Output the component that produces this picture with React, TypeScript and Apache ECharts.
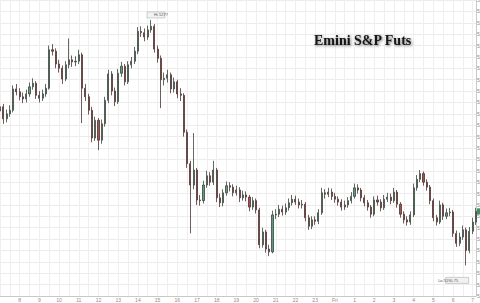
import React, { useEffect, useRef } from "react";
import * as echarts from "echarts";

// 10-minute candles, starting 07:00
const firstOpen = 5245;
const closes = [
  5246.5, 5242.25, 5244, 5245.25, 5252.75, 5251.75, 5250, 5249.25, 5251, 5253.5,
  5254.75, 5250.5, 5249.5, 5251, 5253, 5266.5, 5266, 5261.5, 5260, 5256.25,
  5261.25, 5263, 5262.25, 5262.5, 5264.75, 5253, 5250, 5245.25, 5235.5, 5241.75,
  5234.75, 5240.5, 5248.75, 5258, 5252, 5248.25, 5258.25, 5260.75, 5255.25, 5261.25,
  5262.5, 5266, 5273, 5272.5, 5271, 5273.5, 5274.75, 5266.75, 5263.5, 5256,
  5256.5, 5257.75, 5252.75, 5255.25, 5251, 5250.5, 5237.5, 5226.5, 5219, 5224.25,
  5213.75, 5213.5, 5219, 5222.25, 5220, 5224.25, 5214.5, 5212.75, 5216.25, 5218.75,
  5218.25, 5216.25, 5217.25, 5214.5, 5215.5, 5214.75, 5211.25, 5213.5, 5210.25, 5198,
  5202.5, 5196.5, 5195.5, 5208.5, 5208.75, 5210.5, 5209.5, 5211, 5212.75, 5214,
  5213, 5212, 5212.25, 5207.5, 5204.5, 5206.75, 5206.25, 5209.25, 5216.25, 5215.75,
  5216.5, 5215, 5214, 5213, 5211.25, 5212, 5213.5, 5215, 5218, 5217.25,
  5214.5, 5212.75, 5211.25, 5208.75, 5213.75, 5213, 5211, 5214, 5214.75, 5213.5,
  5216.5, 5212.25, 5208.75, 5206.75, 5206, 5208.5, 5218, 5221, 5223, 5220,
  5218.25, 5213.5, 5207.5, 5206, 5212, 5208, 5209.25, 5209.5, 5202, 5198.5,
  5200.75, 5203.25, 5196, 5202.75, 5206, 5209.75,
];
const highs = [
  5248, 5247.5, 5245.5, 5247, 5254, 5254.5, 5253, 5251.5, 5252.5, 5255,
  5256.5, 5255.5, 5252, 5252.5, 5254.5, 5268, 5268.5, 5267, 5263, 5261,
  5262.5, 5270.5, 5264.5, 5264.25, 5266.5, 5265.5, 5254.5, 5251, 5246.5, 5243,
  5242.5, 5242, 5250, 5259.5, 5259, 5253.25, 5259.75, 5262.25, 5261.5, 5262.5,
  5264, 5267.5, 5274.5, 5274.75, 5274, 5275, 5277, 5275.5, 5268, 5264.5,
  5258.5, 5259.5, 5258.5, 5256.75, 5256, 5253, 5251.25, 5238.5, 5227.5, 5237.25,
  5225, 5215.5, 5220.5, 5224, 5223.5, 5227.5, 5225, 5216, 5217.5, 5220.25,
  5220, 5219.25, 5218.75, 5218.25, 5217, 5216.75, 5215.5, 5214.75, 5214.25, 5211,
  5204, 5203.25, 5198, 5210, 5210.5, 5212, 5211.75, 5212.5, 5214.25, 5215.5,
  5215.25, 5214.25, 5213.75, 5213, 5208.5, 5208, 5208, 5210.5, 5218, 5217.5,
  5218, 5217.75, 5216.25, 5215, 5214, 5213.5, 5214.75, 5216.5, 5219.5, 5219.25,
  5218, 5215.5, 5213.75, 5212, 5215, 5215.25, 5214, 5215.5, 5216.25, 5216,
  5218, 5217.25, 5213, 5209.75, 5208, 5209.75, 5219.5, 5222.5, 5224.25, 5223.75,
  5221, 5219, 5214.25, 5208.5, 5213.5, 5212.75, 5210.75, 5211, 5210.25, 5203,
  5202.25, 5204.75, 5204, 5204.25, 5207.5, 5211,
];
const lows = [
  5244, 5240.5, 5241, 5243, 5244.5, 5250.5, 5248.75, 5247.75, 5248, 5250,
  5252.5, 5249.25, 5248, 5248.5, 5250, 5252.5, 5264.5, 5260, 5258.5, 5254.5,
  5255.5, 5260, 5260.5, 5260.75, 5261.5, 5240.75, 5248.5, 5243.75, 5234, 5234.5,
  5231.25, 5233.5, 5239.5, 5247.75, 5250.5, 5246.75, 5247.5, 5257, 5254, 5254.5,
  5260, 5261.5, 5265, 5271, 5269.5, 5270, 5272.5, 5265.5, 5262, 5246,
  5254, 5255, 5251.25, 5251.5, 5249.5, 5248.5, 5236, 5225, 5202, 5217.5,
  5212, 5211.75, 5212.5, 5218, 5218.75, 5219, 5213, 5211.25, 5211.5, 5215.25,
  5216.75, 5215, 5215.25, 5213, 5213.5, 5213.25, 5209.75, 5210.25, 5209, 5196.75,
  5197, 5195.25, 5194, 5195, 5207, 5207.75, 5208.25, 5208.5, 5210, 5211.75,
  5212, 5210.75, 5210.75, 5206.25, 5203.25, 5203.5, 5205, 5205.25, 5208.5, 5214.25,
  5214.75, 5213.75, 5212.75, 5211.75, 5210, 5210.25, 5211, 5212.5, 5214.25, 5216,
  5213.25, 5211.5, 5210, 5207.5, 5208, 5211.75, 5209.75, 5210.25, 5213, 5212.25,
  5212.75, 5211, 5207.5, 5205.5, 5204.75, 5205, 5207.75, 5217, 5220, 5218.75,
  5217, 5212.25, 5206.25, 5204.75, 5205.25, 5206.75, 5207, 5208, 5200.75, 5197.25,
  5197.5, 5199.75, 5190.75, 5195, 5201.75, 5205,
];
// hour labels, one every 6 candles (index 6, 12, ...)
const hourLabels = [
  "8", "9", "10", "11", "12", "13", "14", "15", "16", "17", "18", "19", "20", "21", "22", "23",
  "Fri", "1", "2", "3", "4", "5", "6", "7",
];
const yMin = 5180;
const yMax = 5284;
const yStep = 4;
const hiText = "Hi 5277";
const loText = "Lo 5190.75";

export default function App() {
  const ref = useRef<HTMLDivElement>(null);
  useEffect(() => {
    if (!ref.current) return;
    const chart = echarts.init(ref.current, undefined, { renderer: "svg" });
    const cats = closes.map((_, i) => String(i));
    const ohlc = closes.map((c, i) => [i === 0 ? firstOpen : closes[i - 1], c, lows[i], highs[i]]);
    let hiIdx = 0;
    let loIdx = 0;
    highs.forEach((h, i) => { if (h > highs[hiIdx]) hiIdx = i; });
    lows.forEach((l, i) => { if (l < lows[loIdx]) loIdx = i; });
    const last = closes.length - 1;
    chart.setOption({
      animation: false,
      backgroundColor: "#ffffff",
      title: {
        text: "Emini S&P Futs",
        left: 309,
        top: 28,
        textStyle: {
          fontFamily: "Liberation Serif",
          fontWeight: "bold",
          fontSize: 14,
          color: "#151515",
          textShadowColor: "rgba(0,0,0,0.55)",
          textShadowBlur: 3,
          textShadowOffsetX: 1,
          textShadowOffsetY: 1,
        },
      },
      grid: { left: 0, right: 4, top: 0, bottom: 7, containLabel: false, outerBoundsMode: "none" },
      xAxis: {
        type: "category",
        data: cats,
        boundaryGap: false,
        axisLine: { show: true, lineStyle: { color: "#c8c8c8", width: 1 } },
        axisTick: { show: false },
        axisLabel: {
          fontSize: 5,
          color: "#8a8a8a",
          margin: 1,
          interval: (i: number) => i > 0 && i % 6 === 0,
          formatter: (_v: string, i: number) => hourLabels[i / 6 - 1] ?? "",
        },
        splitLine: {
          show: true,
          interval: (i: number) => i % 3 === 0,
          lineStyle: { color: "#efefef", width: 1 },
        },
      },
      yAxis: {
        type: "value",
        position: "right",
        min: yMin,
        max: yMax,
        interval: yStep,
        axisLine: { show: true, lineStyle: { color: "#c8c8c8", width: 1 } },
        axisTick: { show: false },
        axisLabel: { fontSize: 5, color: "#8a8a8a", margin: 1, formatter: (v: number) => String(v) },
        splitLine: { show: true, lineStyle: { color: "#ececec", width: 1 } },
      },
      series: [
        {
          type: "candlestick",
          data: ohlc,
          barWidth: 1.6,
          itemStyle: {
            color: "#5e9c7f",
            color0: "#a8504a",
            borderColor: "#3a443e",
            borderColor0: "#4a3432",
            borderWidth: 0.8,
          },
          markPoint: {
            silent: true,
            data: [
              {
                coord: [hiIdx, highs[hiIdx]],
                symbol: "rect",
                symbolSize: [18, 6],
                symbolOffset: [5, -5],
                itemStyle: { color: "#f2f2f2", borderColor: "#b0b0b0", borderWidth: 0.5 },
                label: { show: true, formatter: hiText, fontSize: 4, color: "#555", offset: [5, 0] },
              },
              {
                coord: [loIdx, lows[loIdx]],
                symbol: "rect",
                symbolSize: [23, 6],
                symbolOffset: [-9, 15],
                itemStyle: { color: "#f2f2f2", borderColor: "#b0b0b0", borderWidth: 0.5 },
                label: { show: true, formatter: loText, fontSize: 4, color: "#555", offset: [-9, 0] },
              },
              {
                coord: [last, closes[last]],
                symbol: "rect",
                symbolSize: [20, 6],
                symbolOffset: [11, 0],
                itemStyle: { color: "#3f8f62" },
                label: { show: true, formatter: String(closes[last]), fontSize: 4, color: "#fff", offset: [11, 0] },
              },
            ],
          },
        },
      ],
    });
    return () => chart.dispose();
  }, []);
  return <div ref={ref} style={{ position: "fixed", left: 0, top: 0, width: 480, height: 303 }} />;
}
